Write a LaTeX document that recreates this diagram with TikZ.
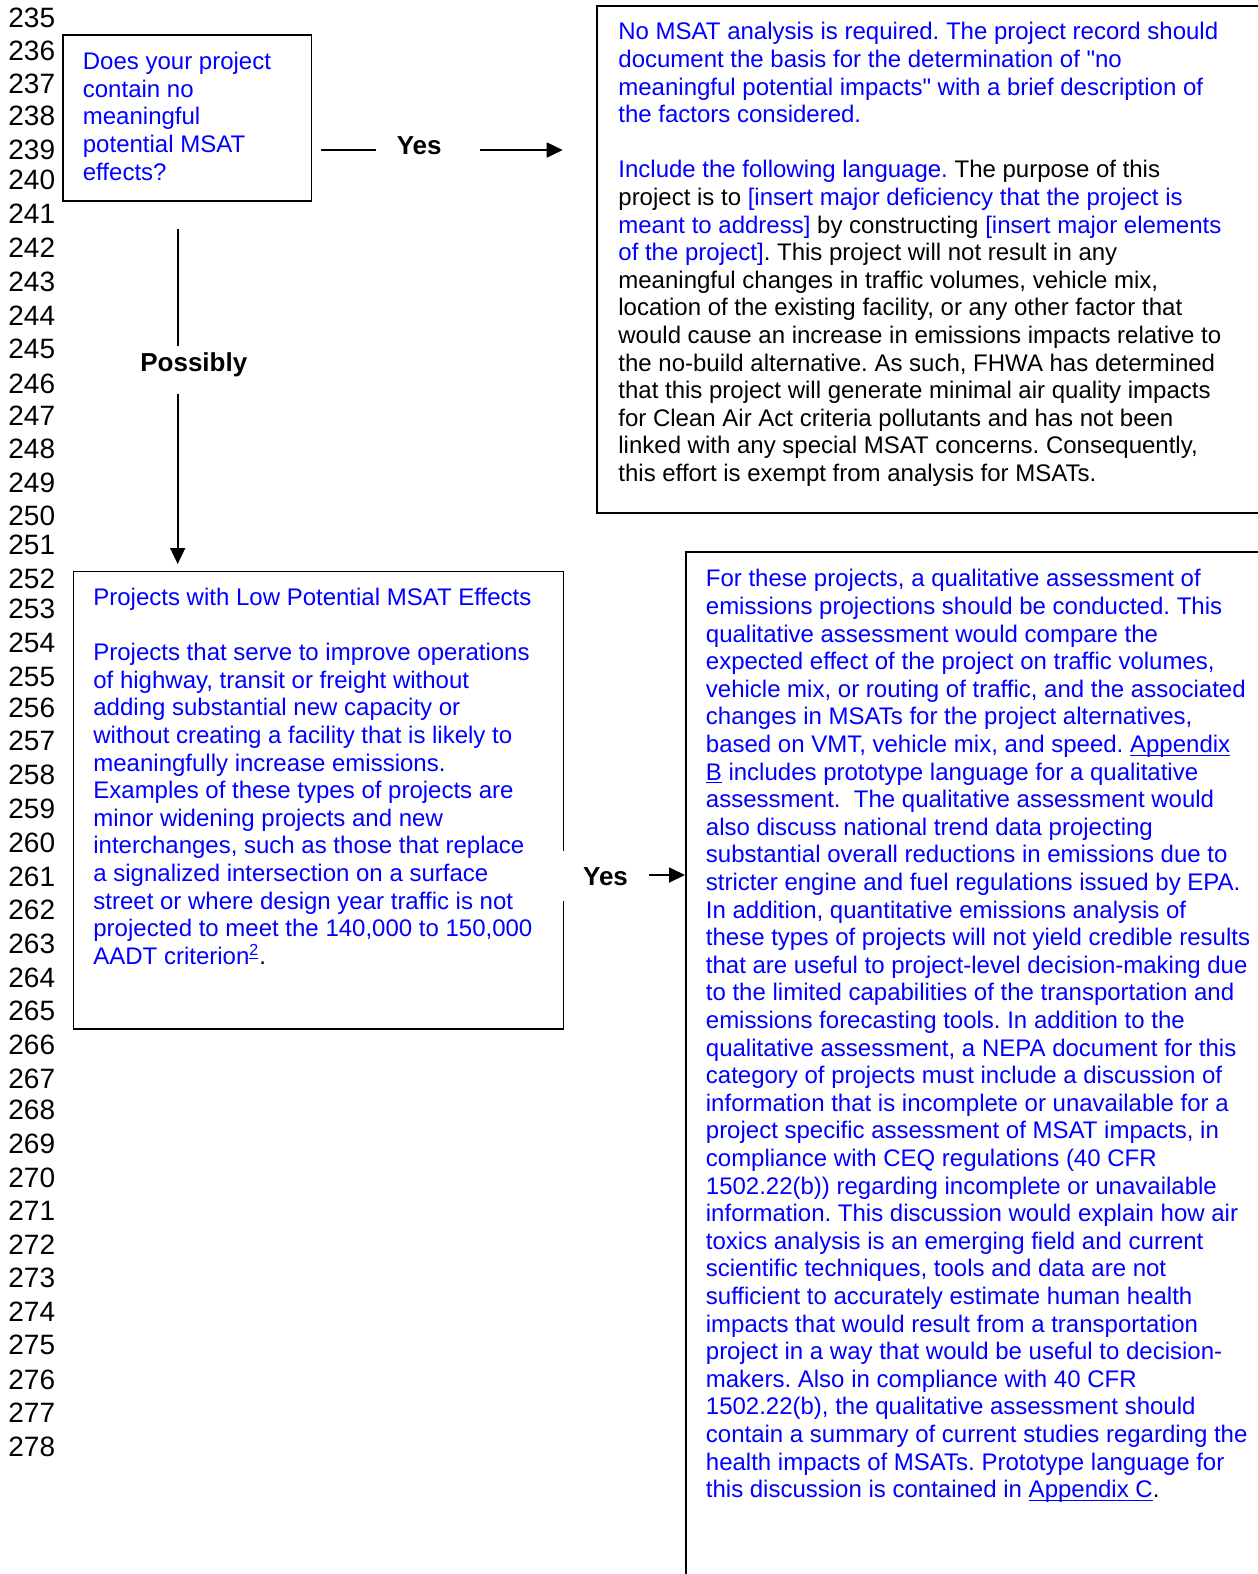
\documentclass[tikz,border=0pt]{standalone}
\usepackage{fontspec}
\setmainfont{Liberation Sans}[Ligatures=TeXOff]
\usetikzlibrary{arrows.meta,fit}
\definecolor{lnkblue}{RGB}{0,0,255}
\newcommand{\ulnk}[1]{\setbox0\hbox{#1}\rlap{\rule[-1.6pt]{\wd0}{0.6pt}}\box0\relax}
\newcommand{\bl}[1]{\textcolor{lnkblue}{#1}}
\newcommand{\topst}{\rule{0pt}{11pt}}
\frenchspacing
\begin{document}
\begin{tikzpicture}[x=0.5pt,y=-0.5pt,
  boxst/.style={draw=black, line width=0.9pt, inner sep=0pt},
  conn/.style={line width=0.9pt},
  arr/.style={line width=0.9pt, -{Triangle[length=8pt,width=7.5pt]}},
  lbl/.style={font=\fontsize{13}{15}\selectfont\bfseries, inner sep=0pt, anchor=base},
  txt/.style={align=left, anchor=north west, inner sep=0pt, font=\fontsize{12}{13.8}\selectfont\frenchspacing},
  lnum/.style={anchor=base west, inner sep=0pt, font=\fontsize{14}{16}\selectfont}]
\useasboundingbox (0,0) rectangle (1258,1574);
\clip (0,0) rectangle (1258,1574);
\fill[white] (0,0) rectangle (1258,1574);

% line numbers
\foreach \n/\yy in {235/27.5,236/61,237/93.8,238/125.5,239/159.5,240/189.8,241/223,242/257,243/291.5,244/325.5,245/358.5,246/393,247/425.2,248/458.3,249/492.4,250/525.6,251/554.7,252/588.5,253/618.8,254/652.1,255/686.2,256/717.3,257/750.5,258/784.6,259/818.7,260/852.9,261/886,262/919.1,263/953.3,264/987.4,265/1020.5,266/1054.7,267/1088.8,268/1119.9,269/1153,270/1187.2,271/1220.3,272/1254.5,273/1287.6,274/1321.7,275/1354.9,276/1389,277/1422.1,278/1456.3}
  \node[lnum] (ln\n) at (8,\yy) {\n};

% boxes
\node[boxst, fit={(63.2,35) (311.5,201)}] (qbox) {};
\node[boxst, fit={(597,6) (1300,512.7)}] (nobox) {};
\node[boxst, fit={(73.5,571.5) (563.5,1029.3)}] (lowbox) {};
\node[boxst, fit={(686,551.7) (1300,1600)}] (qualbox) {};

% texts (first baseline = y + 22)
\node[txt, text=lnkblue] (qtxt) at (82.5,47.3) {\topst Does your project\\contain no\\meaningful\\potential MSAT\\effects?};

\node[txt] (notxt) at (618,17.4) {\topst\bl{No MSAT analysis is required. The project record should}\\
\bl{document the basis for the determination of "no}\\
\bl{meaningful potential impacts" with a brief description of}\\
\bl{the factors considered.}\\[13.8pt]
\bl{Include the following language.} The purpose of this\\
project is to \bl{[insert major deficiency that the project is}\\
\bl{meant to address]} by constructing \bl{[insert major elements}\\
\bl{of the project]}. This project will not result in any\\
meaningful changes in traffic volumes, vehicle mix,\\
location of the existing facility, or any other factor that\\
would cause an increase in emissions impacts relative to\\
the no-build alternative. As such, FHWA has determined\\
that this project will generate minimal air quality impacts\\
for Clean Air Act criteria pollutants and has not been\\
linked with any special MSAT concerns. Consequently,\\
this effort is exempt from analysis for MSATs.};

\node[txt] (lowtxt) at (93,583) {\topst\bl{Projects with Low Potential MSAT Effects}\\[13.8pt]
\bl{Projects that serve to improve operations}\\
\bl{of highway, transit or freight without}\\
\bl{adding substantial new capacity or}\\
\bl{without creating a facility that is likely to}\\
\bl{meaningfully increase emissions.}\\
\bl{Examples of these types of projects are}\\
\bl{minor widening projects and new}\\
\bl{interchanges, such as those that replace}\\
\bl{a signalized intersection on a surface}\\
\bl{street or where design year traffic is not}\\
\bl{projected to meet the 140,000 to 150,000}\\
\bl{AADT criterion\textsuperscript{\ulnk{2}}}.};

\node[txt] (qualtxt) at (705.5,564.5) {\topst\bl{For these projects, a qualitative assessment of}\\
\bl{emissions projections should be conducted. This}\\
\bl{qualitative assessment would compare the}\\
\bl{expected effect of the project on traffic volumes,}\\
\bl{vehicle mix, or routing of traffic, and the associated}\\
\bl{changes in MSATs for the project alternatives,}\\
\bl{based on VMT, vehicle mix, and speed. \ulnk{Appendix}}\\
\bl{\ulnk{B} includes prototype language for a qualitative}\\
\bl{assessment.\ \ The qualitative assessment would}\\
\bl{also discuss national trend data projecting}\\
\bl{substantial overall reductions in emissions due to}\\
\bl{stricter engine and fuel regulations issued by EPA.}\\
\bl{In addition, quantitative emissions analysis of}\\
\bl{these types of projects will not yield credible results}\\
\bl{that are useful to project-level decision-making due}\\
\bl{to the limited capabilities of the transportation and}\\
\bl{emissions forecasting tools. In addition to the}\\
\bl{qualitative assessment, a NEPA document for this}\\
\bl{category of projects must include a discussion of}\\
\bl{information that is incomplete or unavailable for a}\\
\bl{project specific assessment of MSAT impacts, in}\\
\bl{compliance with CEQ regulations (40 CFR}\\
\bl{1502.22(b)) regarding incomplete or unavailable}\\
\bl{information. This discussion would explain how air}\\
\bl{toxics analysis is an emerging field and current}\\
\bl{scientific techniques, tools and data are not}\\
\bl{sufficient to accurately estimate human health}\\
\bl{impacts that would result from a transportation}\\
\bl{project in a way that would be useful to decision-}\\
\bl{makers. Also in compliance with 40 CFR}\\
\bl{1502.22(b), the qualitative assessment should}\\
\bl{contain a summary of current studies regarding the}\\
\bl{health impacts of MSATs. Prototype language for}\\
\bl{this discussion is contained in \ulnk{Appendix C}}.};

% labels
\node[lbl] (yes1) at (419.2,154) {Yes};
\node[lbl] (poss) at (193.8,371.9) {Possibly};
\node[lbl, fill=white, inner xsep=11pt, inner ysep=8pt] (yes2) at (605.5,885) {Yes};

% connectors
\coordinate (a1) at (320.7,150);
\coordinate (a2) at (376,150);
\coordinate (a3) at (480,150);
\coordinate (a4) at (562.7,150);
\draw[conn] (a1) -- (a2);
\draw[arr] (a3) -- (a4);

\coordinate (p1) at (177.7,229);
\coordinate (p2) at (177.7,346.4);
\coordinate (p3) at (177.7,393.6);
\coordinate (p4) at (177.7,564);
\draw[conn] (p1) -- (p2);
\draw[arr] (p3) -- (p4);

\coordinate (b1) at (649.3,875);
\coordinate (b2) at (685,875);
\draw[arr] (b1) -- (b2);
\end{tikzpicture}
\end{document}
